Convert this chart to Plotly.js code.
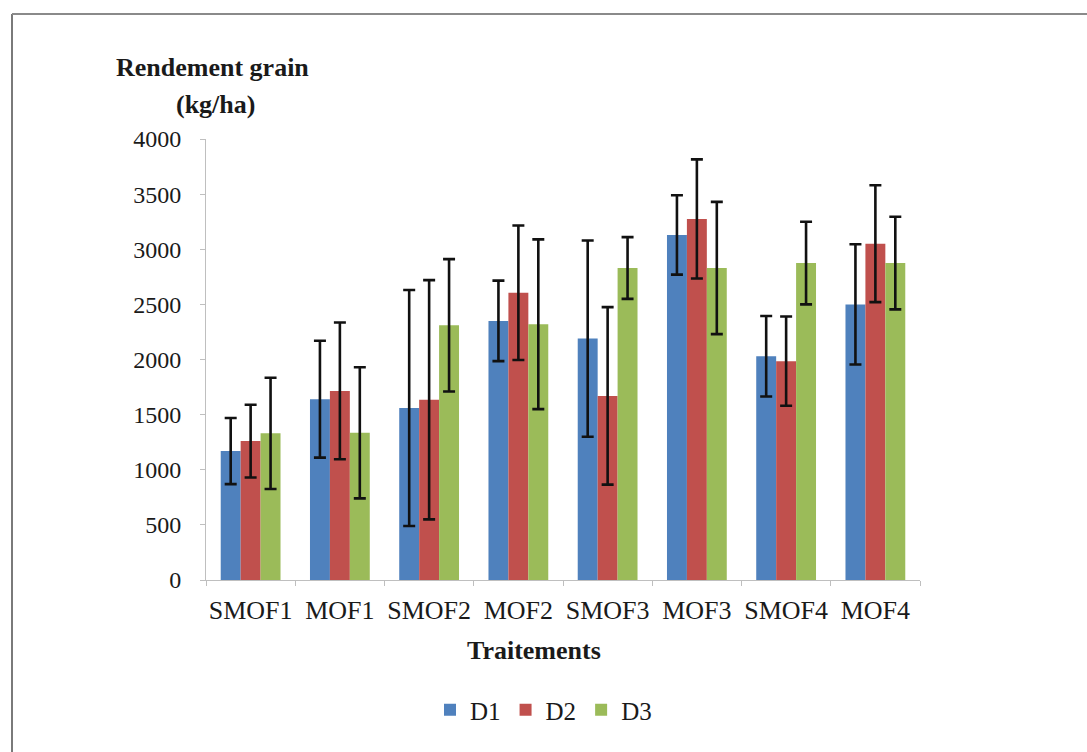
<!DOCTYPE html>
<html>
<head>
<meta charset="utf-8">
<script src="https://cdn.plot.ly/plotly-3.0.1.min.js"></script>
<style>html,body{margin:0;padding:0;background:#fff;}#chart{width:1087px;height:752px;}</style>
</head>
<body>
<div id="chart"></div>
<script>
var categories = ["SMOF1", "MOF1", "SMOF2", "MOF2", "SMOF3", "MOF3", "SMOF4", "MOF4"];
var seriesNames = ["D1", "D2", "D3"];
var d1 = [1170, 1640, 1560, 2350, 2190, 3130, 2030, 2500];
var d1Err = [300, 530, 1070, 365, 890, 360, 365, 545];
var d2 = [1260, 1715, 1635, 2605, 1670, 3275, 1985, 3050];
var d2Err = [330, 620, 1085, 610, 805, 540, 405, 530];
var d3 = [1330, 1335, 2310, 2320, 2830, 2830, 2875, 2875];
var d3Err = [505, 595, 600, 770, 280, 600, 375, 420];
var yTickVals = [0, 500, 1000, 1500, 2000, 2500, 3000, 3500, 4000];
var colors = ["#4F81BD", "#C0504D", "#9BBB59"];

var FONT = "Liberation Serif";
var values = [d1, d2, d3];
var errs = [d1Err, d2Err, d3Err];

var traces = seriesNames.map(function (name, i) {
  return {
    type: "bar",
    name: name,
    x: categories,
    y: values[i],
    marker: { color: colors[i], line: { width: 0 } },
    error_y: { type: "data", array: errs[i], visible: true, color: "#111", thickness: 2.6, width: 6 }
  };
});

// plot area: x 206..920, y 139..580 (pixels)
var L = 206, R = 920, T = 139, B = 580;
function px(x) { return (x - L) / (R - L); }
function py(y) { return (B - y) / (B - T); }

var layout = {
  width: 1087, height: 752,
  margin: { l: L, r: 1087 - R, t: T, b: 752 - B, pad: 0 },
  paper_bgcolor: "#ffffff", plot_bgcolor: "#ffffff",
  font: { family: FONT, color: "#1a1a1a", size: 24 },
  barmode: "group", bargap: 0.33, bargroupgap: 0,
  showlegend: true,
  legend: {
    orientation: "h", x: px(430), xanchor: "left", y: py(710), yanchor: "middle",
    font: { family: FONT, size: 25, color: "#1a1a1a" }, itemclick: false, traceorder: "normal",
    itemwidth: 30, bgcolor: "rgba(0,0,0,0)"
  },
  xaxis: {
    type: "category", tickson: "boundaries", ticks: "outside", ticklen: 5, tickcolor: "#BFBFBF",
    showline: true, linecolor: "#BFBFBF", linewidth: 1, showgrid: false, zeroline: false,
    tickangle: 0,
    tickfont: { family: FONT, size: 26, color: "#1a1a1a" }, ticklabelstandoff: 7
  },
  yaxis: {
    range: [0, 4000], tickvals: yTickVals, ticks: "outside", ticklen: 5, tickcolor: "#BFBFBF",
    showline: true, linecolor: "#BFBFBF", linewidth: 1, showgrid: false, zeroline: false,
    tickfont: { family: FONT, size: 24, color: "#1a1a1a" }, ticklabelstandoff: 14
  },
  annotations: [
    { text: "<b>Rendement grain</b>", xref: "paper", yref: "paper", x: px(212), y: py(68),
      xanchor: "center", yanchor: "middle", showarrow: false, font: { family: FONT, size: 26, color: "#1a1a1a" } },
    { text: "<b>(kg/ha)</b>", xref: "paper", yref: "paper", x: px(215), y: py(104),
      xanchor: "center", yanchor: "middle", showarrow: false, font: { family: FONT, size: 26, color: "#1a1a1a" } },
    { text: "<b>Traitements</b>", xref: "paper", yref: "paper", x: px(534), y: py(650),
      xanchor: "center", yanchor: "middle", showarrow: false, font: { family: FONT, size: 26, color: "#1a1a1a" } }
  ],
  shapes: [
    { type: "line", xref: "paper", yref: "paper", x0: px(12), x1: px(12), y0: py(14), y1: py(760),
      line: { color: "#7a7a7a", width: 2 } },
    { type: "line", xref: "paper", yref: "paper", x0: px(12), x1: px(1095), y0: py(14), y1: py(14),
      line: { color: "#8a8a8a", width: 2 } }
  ]
};

Plotly.newPlot("chart", traces, layout, { staticPlot: true, displayModeBar: false });
</script>
</body>
</html>
